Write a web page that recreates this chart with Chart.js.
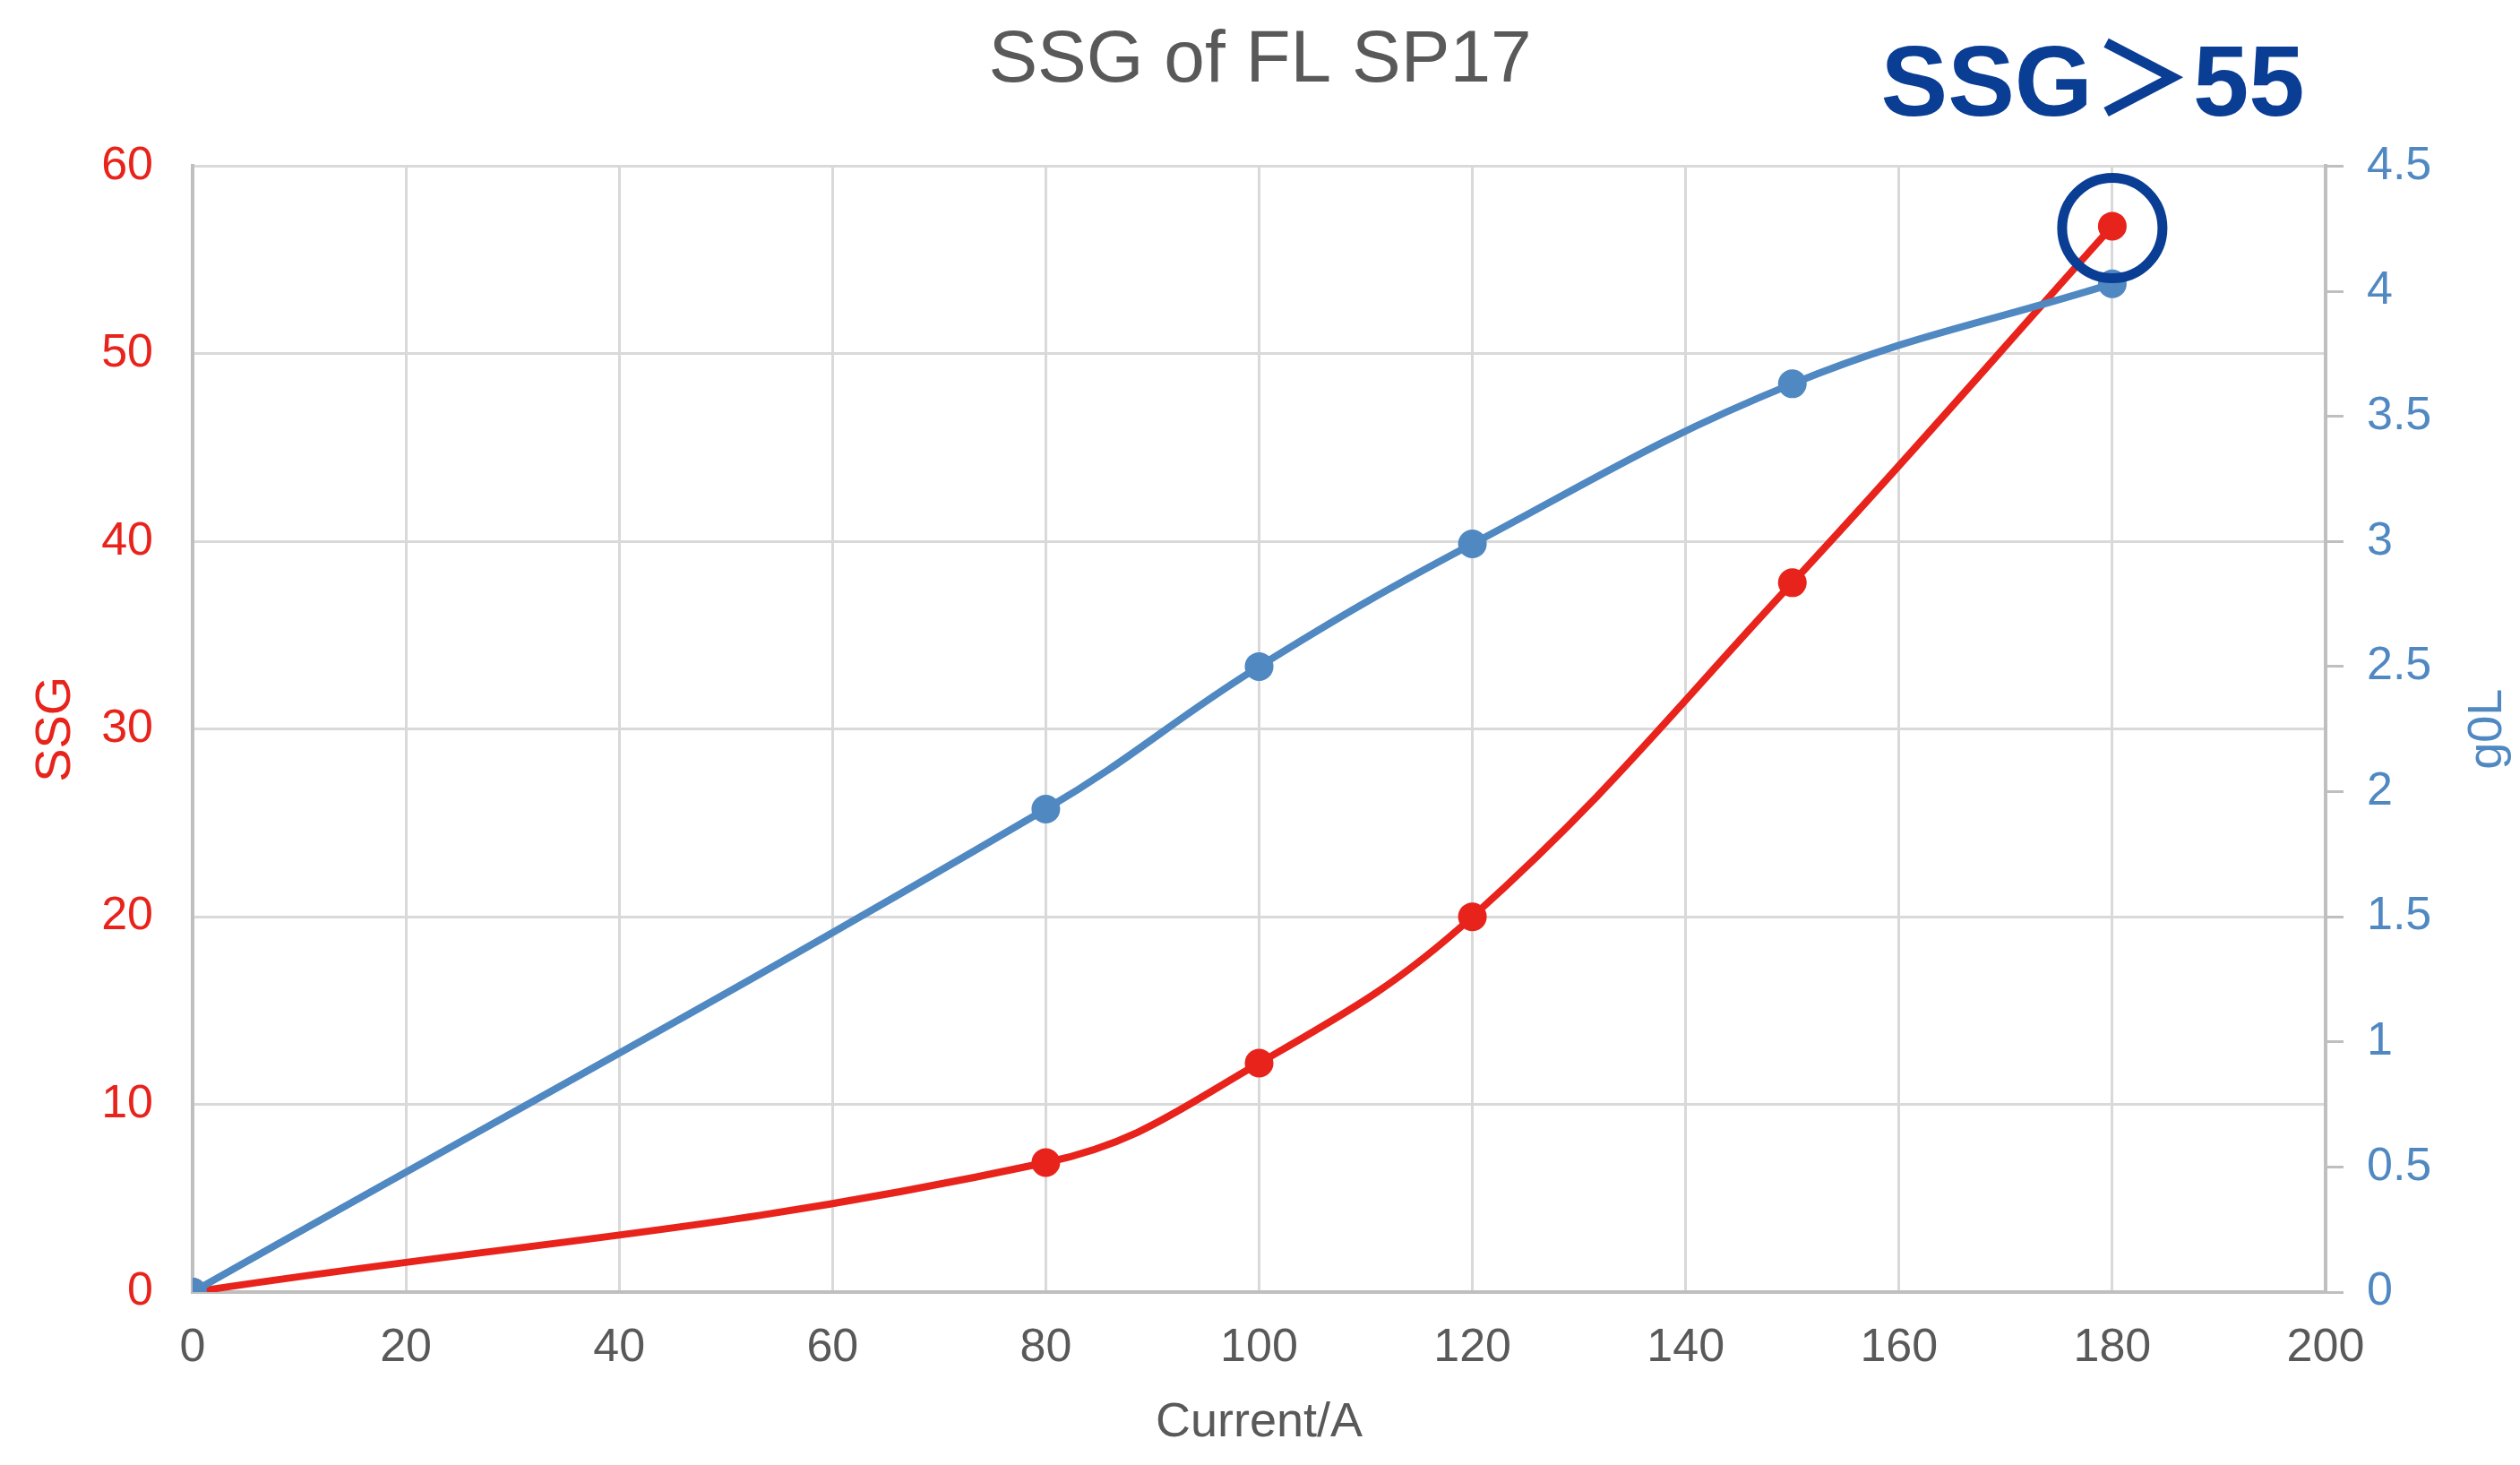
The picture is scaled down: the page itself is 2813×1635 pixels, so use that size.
<!doctype html>
<html lang="en">
<head>
    <meta charset="utf-8">
    <title>SSG of FL SP17</title>
    <style>
        body {
            margin: 0;
            background: #ffffff;
        }

        .chart-container {
            width: 2813px;
            height: 1635px;
        }
    </style>
</head>
<body>
    <div class="chart-container">
        <canvas id="ssgChart"></canvas>
    </div>
    <script src="https://cdn.jsdelivr.net/npm/chart.js"></script>
    <script>
        // values
        const currents = [0, 80, 100, 120, 150, 180];
        const ssgValues = [0, 6.9, 12.2, 20.0, 37.8, 56.8];
        const g0lValues = [0, 1.93, 2.50, 2.99, 3.63, 4.03];
        const xTicks = [0, 20, 40, 60, 80, 100, 120, 140, 160, 180, 200];
        const ssgTicks = [0, 10, 20, 30, 40, 50, 60];
        const g0lTicks = [0, 0.5, 1, 1.5, 2, 2.5, 3, 3.5, 4, 4.5];

        const RED = '#e8231b';
        const BLUE = '#5088c2';
        const DARK_BLUE = '#0a3d94';
        const GREY_TEXT = '#595959';
        const GRID = '#d9d9d9';
        const AXIS = '#bfbfbf';
        const FONT = "'Liberation Sans', Arial, sans-serif";

        const toPoints = (values) => currents.map((x, i) => ({ x: x, y: values[i] }));

        // right axis title reads bottom-to-top, and the circled note at the top point
        const extras = {
            id: 'extras',
            afterDraw(chart) {
                const ctx = chart.ctx;
                const area = chart.chartArea;
                ctx.save();

                // g0L title
                ctx.translate(2777, (area.top + area.bottom) / 2);
                ctx.rotate(-Math.PI / 2);
                ctx.fillStyle = BLUE;
                ctx.font = '54px ' + FONT;
                ctx.textAlign = 'center';
                ctx.textBaseline = 'middle';
                ctx.fillText('g0L', 0, 0);
                ctx.restore();

                // circle around the last SSG point
                const last = currents.length - 1;
                const cx = chart.scales.x.getPixelForValue(currents[last]);
                const cy = chart.scales.ySSG.getPixelForValue(ssgValues[last]);
                ctx.save();
                ctx.strokeStyle = DARK_BLUE;
                ctx.lineWidth = 11;
                ctx.beginPath();
                ctx.arc(cx, cy + 2, 56, 0, Math.PI * 2);
                ctx.stroke();

                ctx.fillStyle = DARK_BLUE;
                ctx.font = "bold 112px 'Liberation Sans', Arial, 'Noto Sans CJK SC', sans-serif";
                ctx.textAlign = 'center';
                ctx.textBaseline = 'middle';
                ctx.fillText('SSG＞55', 2336, 98);
                ctx.restore();
            }
        };

        new Chart(document.getElementById('ssgChart'), {
            type: 'line',
            data: {
                datasets: [{
                    label: 'SSG',
                    data: toPoints(ssgValues),
                    yAxisID: 'ySSG',
                    borderColor: RED,
                    backgroundColor: RED,
                    borderWidth: 8,
                    pointRadius: 16,
                    pointBorderWidth: 0,
                    tension: 0.4,
                    order: 1
                }, {
                    label: 'g0L',
                    data: toPoints(g0lValues),
                    yAxisID: 'yG0L',
                    borderColor: BLUE,
                    backgroundColor: BLUE,
                    borderWidth: 8,
                    pointRadius: 16,
                    pointBorderWidth: 0,
                    tension: 0.4,
                    order: 0
                }]
            },
            options: {
                responsive: true,
                maintainAspectRatio: false,
                animation: false,
                events: [],
                layout: { padding: 0 },
                plugins: {
                    legend: { display: false },
                    tooltip: { enabled: false },
                    title: {
                        display: true,
                        text: 'SSG of FL SP17',
                        color: GREY_TEXT,
                        font: { family: FONT, size: 82, weight: 'normal' },
                        padding: { top: 19, bottom: 68 }
                    }
                },
                scales: {
                    x: {
                        type: 'linear',
                        min: 0,
                        max: 200,
                        afterBuildTicks: (axis) => { axis.ticks = xTicks.map(v => ({ value: v })); },
                        afterFit: (axis) => { axis.height = 193; },
                        grid: { color: GRID, lineWidth: 3, drawTicks: false },
                        border: { color: AXIS, width: 4 },
                        ticks: {
                            color: GREY_TEXT,
                            font: { family: FONT, size: 52 },
                            padding: 31,
                            maxRotation: 0
                        },
                        title: {
                            display: true,
                            text: 'Current/A',
                            color: GREY_TEXT,
                            font: { family: FONT, size: 54 },
                            padding: { top: 0, bottom: 14 }
                        }
                    },
                    ySSG: {
                        type: 'linear',
                        position: 'left',
                        min: 0,
                        max: 60,
                        afterBuildTicks: (axis) => { axis.ticks = ssgTicks.map(v => ({ value: v })); },
                        afterFit: (axis) => { axis.width = 215; },
                        grid: { color: GRID, lineWidth: 3, drawTicks: false },
                        border: { color: AXIS, width: 4 },
                        ticks: {
                            color: RED,
                            font: { family: FONT, size: 52 },
                            padding: 44
                        },
                        title: {
                            display: true,
                            text: 'SSG',
                            color: RED,
                            font: { family: FONT, size: 56 },
                            padding: { top: 29, bottom: 0 }
                        }
                    },
                    yG0L: {
                        type: 'linear',
                        position: 'right',
                        min: 0,
                        max: 4.5,
                        afterBuildTicks: (axis) => { axis.ticks = g0lTicks.map(v => ({ value: v })); },
                        afterFit: (axis) => { axis.width = 217; },
                        grid: {
                            drawOnChartArea: false,
                            color: AXIS,
                            lineWidth: 3,
                            tickLength: 20
                        },
                        border: { color: AXIS, width: 4 },
                        ticks: {
                            color: BLUE,
                            font: { family: FONT, size: 52 },
                            padding: 26,
                            callback: (value) => String(value)
                        }
                    }
                }
            },
            plugins: [extras]
        });
    </script>
</body>
</html>
